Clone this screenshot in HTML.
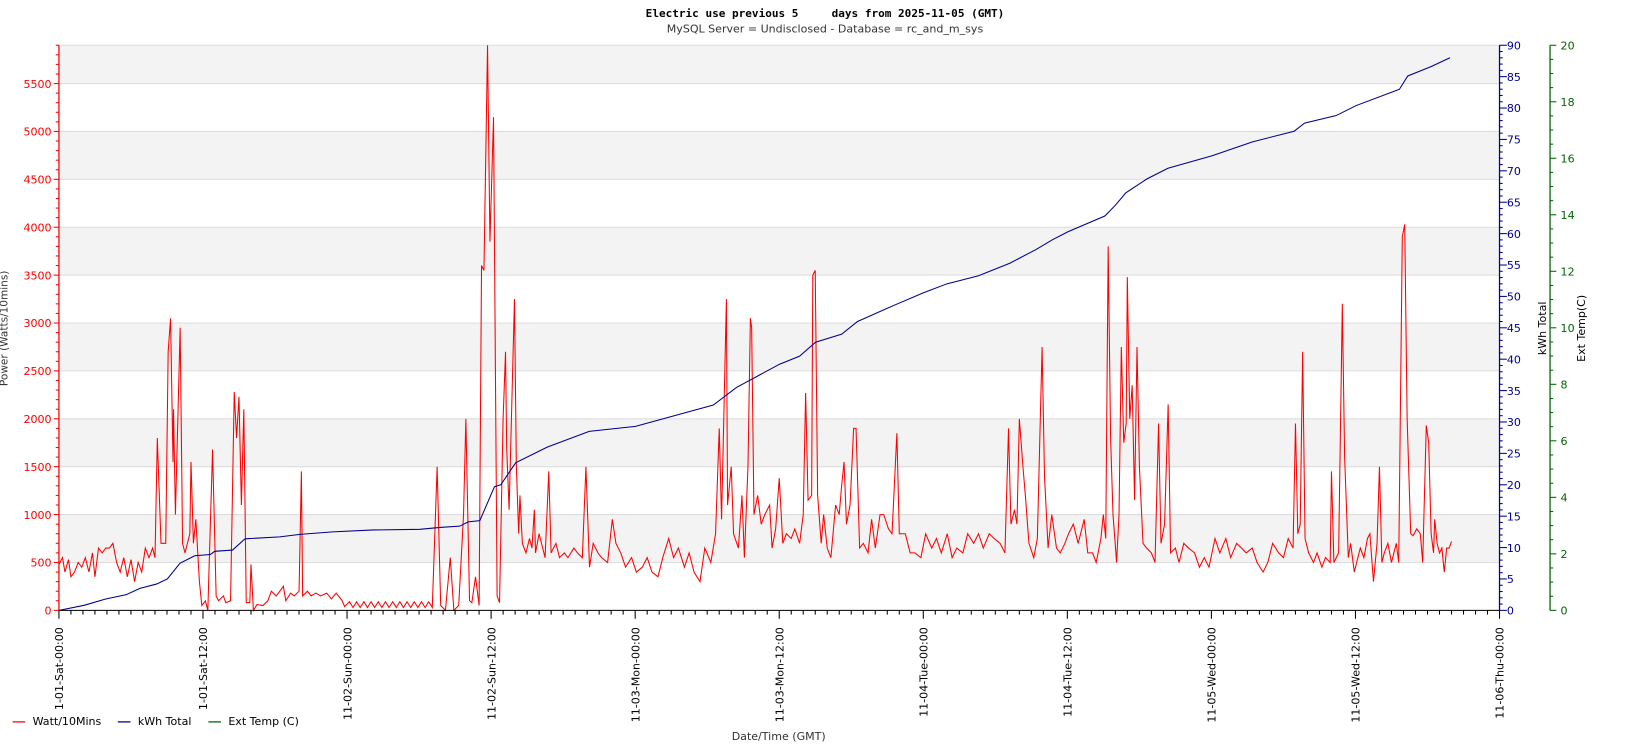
<!DOCTYPE html>
<html><head><meta charset="utf-8"><style>
html,body{margin:0;padding:0;background:#fff;}
svg{display:block;font-family:"DejaVu Sans","Liberation Sans",sans-serif;}
</style></head><body>
<svg id="chart" width="1650" height="750" viewBox="0 0 1568 712.7" preserveAspectRatio="none" xmlns="http://www.w3.org/2000/svg">
<text x="784" y="16" text-anchor="middle" font-family="'DejaVu Sans Mono','Liberation Mono',monospace" font-weight="bold" font-size="10.5" xml:space="preserve">Electric use previous 5     days from 2025-11-05 (GMT)</text>
<text x="784" y="31" text-anchor="middle" font-size="10.5" fill="#333">MySQL Server = Undisclosed - Database = rc_and_m_sys</text>
<g id="bands"></g><g id="grid"></g><g id="series"></g><g id="axes"></g>
<text transform="translate(7,312) rotate(-90)" text-anchor="middle" font-size="10" fill="#333">Power (Watts/10mins)</text>
<text transform="translate(1469,312) rotate(-90)" text-anchor="middle" font-size="10.5" fill="#000">kWh Total</text>
<text transform="translate(1506,312) rotate(-90)" text-anchor="middle" font-size="10.5" fill="#000">Ext Temp(C)</text>
<text x="740" y="703" text-anchor="middle" font-size="10.5" fill="#333">Date/Time (GMT)</text>
<g font-size="10.5">
<line x1="12" y1="686" x2="24" y2="686" stroke="#f00" stroke-width="1.2"/>
<text x="31" y="689">Watt/10Mins</text>
<line x1="112" y1="686" x2="124" y2="686" stroke="#00008b" stroke-width="1.2"/>
<text x="131" y="689">kWh Total</text>
<line x1="198" y1="686" x2="210" y2="686" stroke="#006400" stroke-width="1.2"/>
<text x="217" y="689">Ext Temp (C)</text>
</g>
</svg>
<script>
// ---- data ----
const xTickLabels=["1-01-Sat-00:00","1-01-Sat-12:00","11-02-Sun-00:00","11-02-Sun-12:00","11-03-Mon-00:00","11-03-Mon-12:00","11-04-Tue-00:00","11-04-Tue-12:00","11-05-Wed-00:00","11-05-Wed-12:00","11-06-Thu-00:00"];
const powerTicks=[0,500,1000,1500,2000,2500,3000,3500,4000,4500,5000,5500];
const kwhTicks=[0,5,10,15,20,25,30,35,40,45,50,55,60,65,70,75,80,85,90];
const tempTicks=[0,2,4,6,8,10,12,14,16,18,20];
const wattHours=[0,0.3,0.5,0.8,1.0,1.3,1.6,1.9,2.2,2.5,2.8,3.0,3.3,3.6,3.9,4.2,4.5,4.8,5.1,5.4,5.7,6.0,6.3,6.6,6.9,7.2,7.5,7.8,8.0,
8.2,8.5,8.9,9.1,9.3,9.5,9.55,9.7,10.1,10.3,10.5,10.9,11.0,11.2,11.4,11.7,11.9,12.2,12.4,12.8,13.1,13.3,13.7,13.9,14.3,14.6,14.8,15.0,15.2,15.4,15.6,15.9,16.0,16.2,16.5,17.0,17.4,17.7,18.1,18.4,18.7,18.9,19.3,19.6,20.0,20.2,20.3,20.7,21.0,21.4,21.8,22.3,22.7,23.1,23.6,23.8,
24.2,24.5,24.8,25.1,25.4,25.7,26.0,26.3,26.6,26.9,27.2,27.5,27.8,28.1,28.4,28.7,29.0,29.3,29.6,29.9,30.2,30.5,30.8,31.1,
31.5,31.8,32.2,32.6,32.9,33.3,33.7,33.9,34.2,34.4,34.7,35.0,35.2,35.4,35.7,35.9,36.2,36.5,36.7,37.0,37.2,37.3,37.5,37.95,38.1,38.3,38.4,38.6,38.9,39.2,39.4,39.6,39.7,40.0,40.2,40.5,40.8,41.0,41.4,41.7,42.1,42.4,42.9,43.2,43.6,43.9,44.2,44.5,44.9,45.2,45.7,46.1,46.4,46.8,47.2,47.7,48.1,48.6,49.0,49.4,49.9,50.3,50.8,51.2,51.6,52.1,52.5,52.9,53.4,53.8,54.3,54.7,55.0,55.2,55.6,55.7,56.0,56.2,56.6,56.9,57.1,57.4,57.6,57.7,57.9,58.2,58.5,58.8,59.2,59.4,59.7,60.0,60.3,60.6,61.0,61.3,61.7,62.0,62.2,62.4,62.7,62.8,63.0,63.2,63.5,63.7,64.0,64.3,64.7,65.0,65.2,65.4,65.6,65.9,66.2,66.4,66.7,67.0,67.4,67.7,68.0,68.4,68.7,69.1,69.4,69.8,70.0,70.5,70.9,71.3,71.8,72.2,72.7,73.1,73.5,74.0,74.4,74.8,75.3,75.7,76.2,76.6,77.0,77.5,77.9,78.4,78.8,79.1,79.3,79.6,79.8,80.0,80.3,80.5,80.8,81.2,81.5,81.9,82.1,82.4,82.7,83.1,83.4,83.8,84.1,84.5,84.9,85.4,85.7,86.1,86.4,86.8,87.0,87.2,87.4,87.6,87.8,88.1,88.3,88.5,88.7,88.9,89.0,89.2,89.4,89.6,89.8,90.0,90.3,90.6,91.0,91.3,91.6,91.8,92.1,92.4,92.6,93.0,93.3,93.7,94.1,94.6,95.0,95.4,95.8,96.3,96.7,97.2,97.6,98.1,98.5,98.9,99.4,99.8,100.3,100.7,101.1,101.6,102.0,102.4,102.8,103.0,103.2,103.4,103.6,103.8,104.1,104.5,104.8,105.2,105.5,105.9,106.0,106.2,106.6,106.9,107.1,107.4,107.6,107.9,108.2,108.4,108.7,109.0,109.2,109.5,109.8,110.0,110.2,110.4,110.7,111.0,111.4,111.6,111.9,112.1,112.3,112.6,112.8,113.1,113.4,113.6,113.9,114.1,114.3,114.5,114.6,114.8,115.0,115.2,115.4,115.6,115.8,116.0];
const wattValues=[480,550,400,530,350,400,500,450,550,400,600,350,650,600,650,650,700,500,400,550,350,530,300,500,400,650,550,650,550,
1800,700,700,2700,3050,1550,2100,1000,2950,700,600,800,1550,700,950,300,50,100,0,1680,150,100,150,80,100,2280,1800,2230,1100,2100,80,80,480,0,60,50,100,200,150,200,250,100,180,150,200,1450,150,200,150,180,150,180,120,180,100,40,
90,30,90,30,90,30,90,30,90,30,90,30,90,30,90,30,90,30,90,30,90,30,90,30,
1500,50,0,550,0,50,1000,2000,100,80,350,50,3600,3550,5900,3850,5150,150,80,2000,2700,1700,1050,3250,1500,800,1200,700,600,750,650,1050,600,800,700,550,1450,600,700,550,600,550,650,600,550,1500,450,700,600,550,500,950,700,600,450,550,400,450,550,400,350,550,750,550,650,450,600,400,300,650,500,800,1900,950,3250,1100,1500,800,650,1200,550,1500,3050,2950,1000,1200,900,1000,1100,650,850,1380,700,800,750,850,700,1000,2270,1150,1200,3500,3550,1200,700,1000,650,550,1100,1000,1300,1550,900,1100,1900,1900,650,700,600,950,650,1000,1000,850,800,1850,800,800,600,600,550,800,650,750,600,800,550,650,600,800,700,800,650,800,750,700,600,1900,900,1050,900,2000,1500,1200,700,550,750,2750,1400,650,1000,650,600,700,800,900,700,950,600,600,500,750,1000,750,3800,1800,1000,500,1000,2750,1750,1950,3480,2000,2350,1150,2750,1500,700,650,600,500,1950,700,900,2150,600,650,500,700,650,600,450,550,450,750,600,750,550,700,650,600,650,500,400,500,700,600,550,750,650,1950,800,900,2700,750,600,500,600,450,550,500,1450,500,600,3200,1600,550,700,400,550,650,550,750,800,300,700,1500,500,600,700,500,700,500,3900,4030,2000,800,780,850,800,500,1930,1750,800,600,950,700,600,650,400,650,650,720];
const kwhHours=[0,2.1,3.86,5.61,6.75,8.15,9.03,10.08,11.31,12.62,12.97,14.46,15.51,18.4,20.07,22.79,26.2,30.06,31.73,33.39,34.09,35.06,36.28,36.81,38.04,40.67,44.17,48.03,54.51,56.44,60.03,61.7,63.02,65.21,66.52,69.59,72.04,73.97,76.6,79.23,81.42,82.73,84.05,87.12,88.0,88.87,90.62,92.38,96.06,99.39,102.89,103.77,106.4,108.06,111.66,112.36,114.29,115.87];
const kwhValues=[0,0.8,1.8,2.5,3.5,4.2,5,7.5,8.7,8.9,9.4,9.6,11.4,11.7,12.1,12.5,12.8,12.9,13.2,13.4,14.1,14.3,19.7,20,23.5,26,28.5,29.3,32.7,35.5,39.2,40.5,42.7,44,46,48.6,50.6,52,53.3,55.3,57.5,59,60.3,62.8,64.5,66.5,68.7,70.4,72.4,74.6,76.3,77.6,78.8,80.4,83,85.1,86.6,88];
// ---- axes ----
const X0=56,X1=1425,Y0=580,YT=43,HRS=120,WMAX=5900;
const xs=h=>X0+(X1-X0)*h/HRS;
const yW=v=>Y0-(Y0-YT)*v/WMAX;
const yK=v=>Y0-(Y0-YT)*v/90;
const yT=v=>Y0-(Y0-YT)*v/20;
const NS="http://www.w3.org/2000/svg";
function mk(tag,attrs,parent){const e=document.createElementNS(NS,tag);for(const k in attrs)e.setAttribute(k,attrs[k]);parent.appendChild(e);return e;}
const svg=document.getElementById('chart');
const bands=document.getElementById('bands'),grid=document.getElementById('grid'),series=document.getElementById('series'),axes=document.getElementById('axes');
for(let v=500;v<WMAX;v+=1000){const top=Math.min(v+500,WMAX);
 const r=mk('rect',{x:X0,y:yW(top),width:X1-X0,height:yW(v)-yW(top),fill:'#f3f3f3'},bands);
 
 }
powerTicks.concat([WMAX]).forEach(v=>{const l=mk('line',{x1:X0,x2:X1,y1:yW(v),y2:yW(v),stroke:'#ddd','stroke-width':1},grid);
 
 });
const la=mk('line',{x1:X0,x2:X0,y1:YT,y2:Y0,stroke:'#f00','stroke-width':1.2},axes);


for(let v=0;v<=WMAX;v+=100){mk('line',{x1:X0-(v%500?3:5),x2:X0,y1:yW(v),y2:yW(v),stroke:'#f00','stroke-width':1},axes);}
powerTicks.forEach(v=>{const t=mk('text',{x:X0-7,y:yW(v)+4,'text-anchor':'end','font-size':10.5,fill:'#f00'},axes);t.textContent=v;
 
 });
const XK=1425;
const ka=mk('line',{x1:XK,x2:XK,y1:YT,y2:Y0,stroke:'#00008b','stroke-width':1.2},axes);


for(let v=0;v<=90;v++){mk('line',{x1:XK,x2:XK+(v%5?3:7),y1:yK(v),y2:yK(v),stroke:'#00008b','stroke-width':1},axes);}
kwhTicks.forEach(v=>{const t=mk('text',{x:XK+7,y:yK(v)+4,'font-size':10.5,fill:'#00008b'},axes);t.textContent=v;
 
 });
const XT=1473;
const ta=mk('line',{x1:XT,x2:XT,y1:YT,y2:Y0,stroke:'#006400','stroke-width':1.2},axes);


for(let v=0;v<=20;v+=0.5){mk('line',{x1:XT,x2:XT+(v%2?3:6),y1:yT(v),y2:yT(v),stroke:'#006400','stroke-width':1},axes);}
tempTicks.forEach(v=>{const t=mk('text',{x:XT+10,y:yT(v)+4,'font-size':10.5,fill:'#006400'},axes);t.textContent=v;
 
 });
const xa=mk('line',{x1:X0,x2:X1,y1:Y0,y2:Y0,stroke:'#000','stroke-width':1},axes);


for(let h=0;h<=HRS;h++){mk('line',{x1:xs(h),x2:xs(h),y1:Y0,y2:Y0+(h%12?4:8),stroke:'#000','stroke-width':1},axes);}
xTickLabels.forEach((s,i)=>{const x=xs(i*12)+4;const t=mk('text',{transform:`translate(${x},596) rotate(-90)`,'text-anchor':'end','font-size':10.5,fill:'#000'},axes);t.textContent=s;
 
 });
const wp=mk('polyline',{points:wattHours.map((h,i)=>xs(h).toFixed(1)+','+yW(wattValues[i]).toFixed(1)).join(' '),fill:'none',stroke:'#f00','stroke-width':1},series);


const kp=mk('polyline',{points:kwhHours.map((h,i)=>xs(h).toFixed(1)+','+yK(kwhValues[i]).toFixed(1)).join(' '),fill:'none',stroke:'#00008b','stroke-width':1},series);


</script>
</body></html>
